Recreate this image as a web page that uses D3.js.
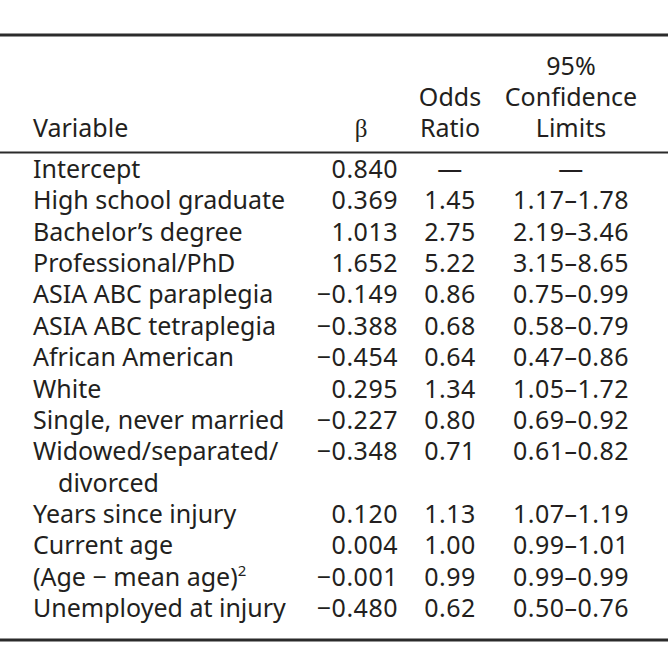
<!DOCTYPE html>
<html><head><meta charset="utf-8">
<script src="https://cdn.jsdelivr.net/npm/d3@7"></script>
<style>
html,body{margin:0;padding:0;background:#fff;}
svg{display:block;}
text{font-family:"Noto Sans",sans-serif;fill:#231f20;}
.num{letter-spacing:0.5px;}
</style></head>
<body><svg id="c" width="672" height="661"></svg>
<script>
// ---- data ----
const variables = [
  ["Intercept"],
  ["High school graduate"],
  ["Bachelor\u2019s degree"],
  ["Professional/PhD"],
  ["ASIA ABC paraplegia"],
  ["ASIA ABC tetraplegia"],
  ["African American"],
  ["White"],
  ["Single, never married"],
  ["Widowed/separated/", "divorced"],
  ["Years since injury"],
  ["Current age"],
  ["(Age \u2212 mean age)\u00b2"],
  ["Unemployed at injury"]
];
const betas = [0.840, 0.369, 1.013, 1.652, -0.149, -0.388, -0.454, 0.295, -0.227, -0.348, 0.120, 0.004, -0.001, -0.480];
const oddsRatios = [null, 1.45, 2.75, 5.22, 0.86, 0.68, 0.64, 1.34, 0.80, 0.71, 1.13, 1.00, 0.99, 0.62];
const ciLower = [null, 1.17, 2.19, 3.15, 0.75, 0.58, 0.47, 1.05, 0.69, 0.61, 1.07, 0.99, 0.99, 0.50];
const ciUpper = [null, 1.78, 3.46, 8.65, 0.99, 0.79, 0.86, 1.72, 0.92, 0.82, 1.19, 1.01, 0.99, 0.76];
const headers = [
  {col:"var", lines:["Variable"]},
  {col:"beta", lines:["\u03b2"]},
  {col:"or", lines:["Odds","Ratio"]},
  {col:"ci", lines:["95%","Confidence","Limits"]}
];

// ---- layout ----
const svg = d3.select("#c");
const fs = 25;
const colX = {var:33, beta:398, or:450, ci:571, betaHead:361};
let lineIdx = [], k = 0;
variables.forEach(v => { lineIdx.push(k); k += v.length; });
const totalLines = k;
const y = d3.scaleLinear().domain([0, totalLines - 1]).range([178, 617]);
const hy = d3.scaleLinear().domain([0, 2]).range([75, 137]);

svg.append("line").attr("x1",0).attr("x2",668).attr("y1",35).attr("y2",35).attr("stroke","#2b2b2b").attr("stroke-width",3);
svg.append("line").attr("x1",0).attr("x2",668).attr("y1",152.5).attr("y2",152.5).attr("stroke","#2b2b2b").attr("stroke-width",2);
svg.append("line").attr("x1",0).attr("x2",668).attr("y1",640).attr("y2",640).attr("stroke","#2b2b2b").attr("stroke-width",3);

headers.forEach(h => {
  const n = h.lines.length;
  h.lines.forEach((t, i) => {
    const yy = hy(3 - n + i);
    let x, anchor;
    if (h.col === "var") { x = colX.var; anchor = "start"; }
    else if (h.col === "beta") { x = colX.betaHead; anchor = "middle"; }
    else if (h.col === "or") { x = colX.or; anchor = "middle"; }
    else { x = colX.ci; anchor = "middle"; }
    const te = svg.append("text").attr("x", x).attr("y", yy).attr("text-anchor", anchor).attr("font-size", fs);
    if (h.col === "beta") te.style("font-family", "'Liberation Serif',serif").text(t);
    else te.text(t);
  });
});

const f3 = d3.format(".3f"), f2 = d3.format(".2f");
const rows = svg.append("g").selectAll("g").data(variables.map((v,i)=>({v, i}))).join("g");

rows.each(function(d){
  const g = d3.select(this);
  const base = y(lineIdx[d.i]);
  d.v.forEach((line, j) => {
    const t = g.append("text").attr("x", colX.var + (j>0 ? 25 : 0)).attr("y", y(lineIdx[d.i] + j)).attr("font-size", fs);
    if (line.endsWith("\u00b2")) {
      t.append("tspan").text(line.slice(0,-1));
      t.append("tspan").attr("dy", -10).attr("font-size", 15).text("2");
    } else t.text(line);
  });
  g.append("text").attr("class","num").attr("x", colX.beta).attr("y", base).attr("text-anchor","end").attr("font-size", fs).text(f3(betas[d.i]));
  const or = oddsRatios[d.i];
  g.append("text").attr("class","num").attr("x", colX.or).attr("y", base).attr("text-anchor","middle").attr("font-size", fs)
    .text(or == null ? "\u2014" : f2(or));
  const lo = ciLower[d.i], hi = ciUpper[d.i];
  g.append("text").attr("class","num").attr("x", colX.ci).attr("y", base).attr("text-anchor","middle").attr("font-size", fs)
    .text(lo == null ? "\u2014" : f2(lo) + "\u2013" + f2(hi));
});
</script></body></html>
